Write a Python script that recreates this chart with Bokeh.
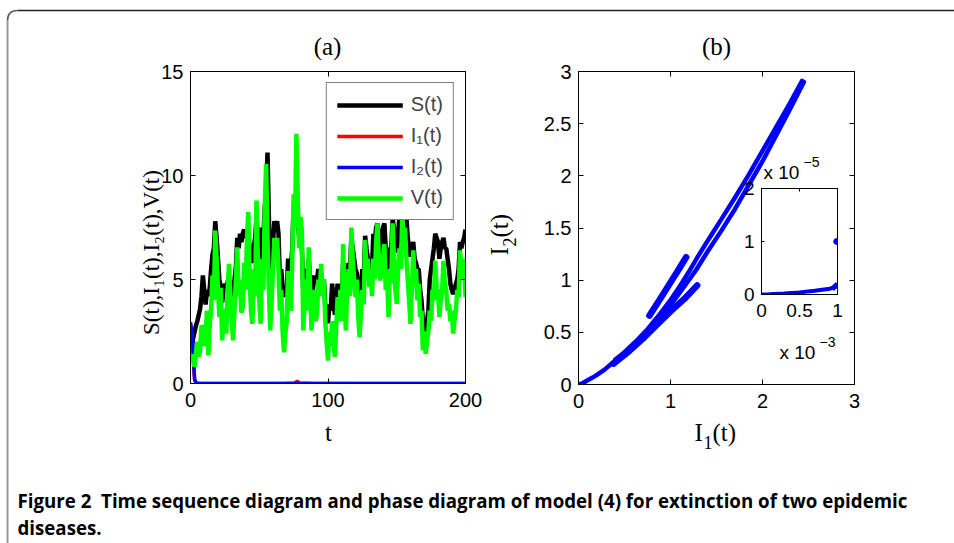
import math
from bokeh.plotting import figure
from bokeh.models import (Range1d, LinearAxis, FixedTicker, Legend, LegendItem,
                          CustomJSTickFormatter)
from bokeh.core.properties import value
from bokeh.embed import file_html
from bokeh.resources import INLINE

# ---------------- data ----------------
t = list(range(0, 201))
V = [1.0, 1.4, 1.1, 0.8, 1.5, 2.0, 1.3, 1.6, 2.8, 2.6,
     1.8, 2.4, 3.5, 1.35, 2.8, 3.6, 5.2, 4.0, 7.35, 6.0,
     4.5, 3.2, 4.6, 2.07, 3.0, 3.6, 2.4, 4.5, 5.75, 4.2,
     3.0, 2.07, 3.5, 5.0, 6.55, 4.2, 5.0, 3.4, 3.67, 5.8,
     4.5, 6.8, 8.24, 5.0, 3.5, 2.87, 5.5, 4.2, 8.8, 6.0,
     4.0, 2.87, 6.0, 4.5, 8.5, 10.56, 7.0, 4.5, 2.55, 4.0,
     5.5, 7.0, 6.0, 7.0, 5.5, 3.5, 4.5, 2.5, 1.5, 2.4,
     3.0, 5.4, 4.0, 3.5, 6.0, 9.1, 7.5, 12.0, 9.0, 6.5,
     8.0, 7.36, 2.55, 4.0, 5.0, 3.5, 6.55, 4.5, 2.55, 4.0,
     4.5, 3.0, 3.3, 5.0, 4.2, 5.75, 4.2, 5.0, 3.0, 2.0,
     1.1, 2.5, 1.8, 3.0, 2.0, 1.27, 2.8, 4.15, 3.0, 4.5,
     3.0, 6.7, 4.0, 2.55, 4.5, 5.5, 4.2, 7.5, 6.0, 5.0,
     4.15, 5.0, 3.2, 2.23, 3.5, 4.5, 3.8, 6.9, 5.5, 6.0,
     4.63, 5.5, 4.2, 6.0, 5.0, 6.8, 7.7, 6.0, 4.95, 5.5,
     6.0, 6.7, 4.5, 5.2, 3.2, 5.5, 4.8, 7.7, 6.0, 4.5,
     3.83, 5.5, 6.5, 5.5, 8.0, 7.0, 7.5, 6.0, 5.0, 4.0,
     2.87, 4.5, 6.4, 5.0, 5.5, 4.0, 4.8, 3.2, 3.5, 1.6,
     2.5, 1.43, 2.0, 2.5, 3.5, 3.0, 4.5, 4.0, 5.9, 4.5,
     4.5, 3.2, 4.0, 4.5, 5.9, 4.8, 4.5, 3.5, 3.83, 3.0,
     3.5, 2.4, 3.0, 3.5, 4.5, 4.15, 6.4, 5.5, 5.0, 6.0,
     4.15]
S = [1.5, 1.8, 2.2, 2.5, 2.8, 3.0, 3.3, 3.6, 4.2, 5.2,
     4.5, 3.8, 4.5, 4.2, 4.6, 5.5, 6.2, 6.5, 7.8, 7.0,
     6.0, 5.0, 4.6, 3.9, 4.5, 4.8, 4.5, 4.9, 5.0, 4.6,
     4.2, 4.5, 5.0, 5.6, 7.0, 6.5, 7.2, 6.8, 7.2, 7.4,
     7.0, 7.3, 7.3, 6.5, 6.0, 5.8, 6.5, 7.0, 8.0, 7.0,
     5.5, 4.0, 7.5, 7.0, 8.5, 9.0, 11.1, 8.0, 5.5, 6.5,
     6.8, 7.8, 7.5, 7.8, 7.2, 5.0, 5.5, 4.5, 4.3, 4.2,
     4.5, 6.0, 5.5, 5.5, 6.5, 8.5, 8.5, 9.0, 8.0, 7.0,
     6.8, 6.5, 4.5, 5.0, 5.5, 5.0, 6.0, 5.0, 3.5, 4.5,
     5.2, 4.8, 5.0, 5.5, 5.0, 5.3, 4.5, 5.0, 3.7, 3.2,
     2.9, 3.8, 3.5, 4.8, 4.0, 3.3, 4.0, 4.8, 4.2, 4.8,
     4.0, 5.8, 5.0, 4.5, 5.0, 5.8, 5.5, 7.0, 6.5, 6.0,
     5.5, 5.3, 4.5, 4.0, 4.5, 5.5, 5.0, 7.1, 6.5, 6.0,
     5.5, 6.0, 5.5, 7.2, 6.8, 7.5, 7.7, 7.0, 6.2, 7.0,
     7.5, 7.7, 6.5, 6.0, 5.2, 6.5, 6.5, 7.9, 7.5, 6.8,
     6.3, 7.0, 8.2, 7.5, 8.5, 8.6, 8.6, 8.0, 7.0, 6.5,
     6.1, 6.5, 6.8, 6.0, 5.8, 5.5, 5.5, 4.5, 4.0, 3.0,
     2.8, 2.5, 3.0, 3.5, 5.0, 5.5, 6.0, 6.5, 7.2, 7.0,
     6.8, 6.0, 6.5, 6.8, 7.0, 6.5, 6.5, 6.0, 5.5, 4.8,
     4.5, 4.3, 4.5, 4.8, 5.0, 5.5, 6.8, 6.5, 6.8, 7.0,
     7.4]
t_inf = [0, 1, 2, 2.5, 3, 4, 5, 20, 40, 60, 70, 76, 77.6, 79, 90, 120, 150, 200]
I1 = [2.43, 2.0, 1.2, 0.6, 0.15, 0.04, 0.01, 0.005, 0.004, 0.003, 0.01, 0.03, 0.12, 0.03,
      0.005, 0.002, 0.001, 0.001]
I2 = [2.95, 2.5, 1.6, 0.8, 0.2, 0.05, 0.01, 0.003, 0.002, 0.002, 0.004, 0.01, 0.02, 0.01,
      0.003, 0.001, 0.001, 0.001]

# phase diagram pieces (I1, I2)
ph_x = [
    [2.43, 2.30, 2.15, 2.00, 1.85, 1.70, 1.55, 1.42, 1.30, 1.20, 1.10, 1.00, 0.88, 0.75, 0.62,
     0.50, 0.40],
    [2.45, 2.30, 2.15, 2.00, 1.85, 1.70, 1.55, 1.40, 1.28, 1.15, 1.00, 0.85, 0.70, 0.55, 0.40,
     0.28, 0.18, 0.10, 0.04, 0.0],
]
ph_y = [
    [2.91, 2.70, 2.47, 2.24, 2.01, 1.79, 1.58, 1.40, 1.23, 1.08, 0.94, 0.81, 0.67, 0.53, 0.41,
     0.31, 0.24],
    [2.90, 2.64, 2.39, 2.14, 1.91, 1.68, 1.47, 1.27, 1.10, 0.94, 0.76, 0.60, 0.46, 0.33, 0.23,
     0.14, 0.08, 0.04, 0.01, 0.0],
]
# short, thicker excursions of the trajectory
ph_thick_x = [[1.17, 1.08, 0.98, 0.88, 0.77],
              [1.29, 1.15, 1.00, 0.85, 0.70, 0.55, 0.38]]
ph_thick_y = [[1.22, 1.09, 0.95, 0.81, 0.66],
              [0.95, 0.82, 0.70, 0.57, 0.44, 0.32, 0.20]]
# inset (zoom near origin)
ins_x = [0, 1e-4, 3e-4, 5e-4, 7e-4, 9e-4, 1e-3]
ins_y = [0, 5e-8, 2e-7, 4e-7, 7e-7, 1.1e-6, 1.6e-6]
ins_blob_x = [9.3e-4, 9.7e-4, 1e-3]
ins_blob_y = [1.0e-6, 1.6e-6, 2.0e-6]
ins_dot_x = [0.99e-3]
ins_dot_y = [1.0e-5]

ticks_t = [0, 100, 200]
ticks_a = [0, 5, 10, 15]
ticks_b = [0, 1, 2, 3]
ticks_b_y = [0, 0.5, 1, 1.5, 2, 2.5, 3]
ticks_ix = [0, 5e-4, 1e-3]
ticks_iy = [0, 1e-5, 2e-5]

caption1 = "Figure 2\u00a0\u00a0Time sequence diagram and phase diagram of model (4) for extinction of two epidemic"
caption2 = "diseases."

# ---------------- layout helpers ----------------
W, H = 954, 543
TICK_FONT = "Liberation Sans"
SERIF = "Liberation Serif"


def panel(fl, ft, fw, fh, xr, yr, xt, yt, fs="20px", bg="white"):
    p = figure(width=W, height=H, x_range=xr, y_range=yr, output_backend="svg",
               toolbar_location=None,
               min_border_left=fl, min_border_top=ft,
               min_border_right=W - fl - fw, min_border_bottom=H - ft - fh)
    p.border_fill_color = None
    p.background_fill_color = bg
    p.outline_line_color = "black"
    p.outline_line_width = 1
    p.xgrid.visible = False
    p.ygrid.visible = False
    xb = p.below[0]
    yl = p.left[0]
    xa = LinearAxis(formatter=CustomJSTickFormatter(code="return ''"))
    yr_ = LinearAxis(formatter=CustomJSTickFormatter(code="return ''"))
    p.add_layout(xa, "above")
    p.add_layout(yr_, "right")
    for ax in (xb, xa):
        ax.ticker = FixedTicker(ticks=xt, minor_ticks=[])
    for ax in (yl, yr_):
        ax.ticker = FixedTicker(ticks=yt, minor_ticks=[])
    for ax in (xb, xa, yl, yr_):
        ax.major_tick_in = 5
        ax.major_tick_out = 0
        ax.minor_tick_in = 0
        ax.minor_tick_out = 0
        ax.axis_line_color = "black"
        ax.major_tick_line_color = "black"
        ax.major_label_text_font = TICK_FONT
        ax.major_label_text_font_size = fs
        ax.major_label_text_color = "black"
    xb.major_label_standoff = 9
    yl.major_label_standoff = 7
    return p, xb, yl, xa, yr_


# ---------------- background (frame, titles, labels, caption) ----------------
bgf = figure(width=W, height=H, x_range=Range1d(0, W), y_range=Range1d(H, 0),
             x_axis_type=None, y_axis_type=None, toolbar_location=None,
             output_backend="svg", min_border=0)
bgf.outline_line_color = None
bgf.border_fill_color = "white"
bgf.background_fill_color = "white"
# rounded frame of the figure box
bgf.line(x=[17, W], y=[10, 10], line_color="#222222", line_width=1.5)
bgf.line(x=[7, 7], y=[20, H], line_color="#999999", line_width=2)
bgf.quadratic(x0=[7], y0=[20], x1=[17], y1=[10], cx=[7], cy=[10], line_color="#555555",
              line_width=1.5)


def txt(x, y, s, font=SERIF, size="25px", align="center", angle=0.0, base="middle", style="normal"):
    bgf.text(x=[x], y=[y], text=[s], text_font=value(font), text_font_size=size,
             text_align=align, text_baseline=base, angle=angle, text_color="black",
             text_font_style=style)


txt(327, 46, "(a)")
txt(716, 46, "(b)")
txt(328, 432, "t")
# x label of (b): I_1(t)
txt(694, 432, "I", align="left")
txt(703, 442, "1", size="18px", align="left")
txt(712, 432, "(t)", align="left")
# y label of (b): I_2(t)
txt(499, 255, "I", align="left", angle=math.pi / 2)
txt(509, 246, "2", size="18px", align="left", angle=math.pi / 2)
txt(499, 237, "(t)", align="left", angle=math.pi / 2)
# y label of (a)
txt(151, 252, "S(t),I\u2081(t),I\u2082(t),V(t)", size="23px", angle=math.pi / 2)
# inset exponent labels
txt(763, 172, "x 10", font=TICK_FONT, size="19px", align="left")
txt(803, 161, "\u22125", font=TICK_FONT, size="14px", align="left")
txt(779, 352, "x 10", font=TICK_FONT, size="19px", align="left")
txt(819, 341, "\u22123", font=TICK_FONT, size="14px", align="left")
# caption
txt(17, 500, caption1, font="Open Sans", size="18.7px", align="left", style="bold")
txt(17, 527, caption2, font="Open Sans", size="18.7px", align="left", style="bold")

# ---------------- panel (a) ----------------
pa, *_ = panel(190, 71, 275, 312, Range1d(0, 200), Range1d(0, 15), ticks_t, ticks_a)
rS = pa.line(t, S, line_color="black", line_width=4.5)
rI1 = pa.line(t_inf, I1, line_color="#ff0000", line_width=3.5)
rI2 = pa.line(t_inf, I2, line_color="#0000ff", line_width=3.5)
rV = pa.line(t, V, line_color="#00ff00", line_width=4.5)
leg = Legend(items=[LegendItem(label="S(t)", renderers=[rS]),
                    LegendItem(label="I\u2081(t)", renderers=[rI1]),
                    LegendItem(label="I\u2082(t)", renderers=[rI2]),
                    LegendItem(label="V(t)", renderers=[rV])],
             location="top_right", margin=11, padding=10, spacing=8,
             glyph_width=66, glyph_height=20, label_height=20, label_standoff=8,
             label_text_font=TICK_FONT, label_text_font_size="20px",
             border_line_color="black", border_line_width=1,
             background_fill_color="white", background_fill_alpha=1)
pa.add_layout(leg)

# ---------------- panel (b) ----------------
pb, *_ = panel(578, 71, 276, 313, Range1d(0, 3), Range1d(0, 3), ticks_b, ticks_b_y, bg=None)
pb.multi_line(ph_x, ph_y, line_color="#0000ff", line_width=4.5, line_cap="round")
pb.multi_line(ph_thick_x, ph_thick_y, line_color="#0000ff", line_width=6.5, line_cap="round")

# ---------------- inset ----------------
pi_, ixb, iyl, ixa, iyr = panel(761, 188, 76, 106, Range1d(0, 1e-3), Range1d(0, 2e-5),
                                ticks_ix, ticks_iy, fs="19px")
ixb.formatter = CustomJSTickFormatter(code="return String(Math.round(tick*1e4)/10)")
iyl.formatter = CustomJSTickFormatter(code="return String(Math.round(tick*1e5))")
for ax in (ixb, iyl, ixa, iyr):
    ax.major_tick_in = 3
pi_.line(ins_x, ins_y, line_color="#0000ff", line_width=4)
pi_.line(ins_blob_x, ins_blob_y, line_color="#0000ff", line_width=5)
pi_.scatter(ins_dot_x, ins_dot_y, size=6, color="#0000ff")

TEMPLATE = """
{% block contents %}
{% from macros import embed with context %}
<style>html, body { margin: 0 !important; padding: 0 !important; overflow: hidden; }</style>
<div style="position:relative;width:954px;height:543px;">
{% for doc in docs %}{% for root in doc.roots %}
<div style="position:absolute;left:0px;top:0px;">{{ embed(root) }}</div>
{% endfor %}{% endfor %}
</div>
{% endblock %}
"""

open("out.html", "w").write(file_html([bgf, pa, pb, pi_], INLINE, template=TEMPLATE))
